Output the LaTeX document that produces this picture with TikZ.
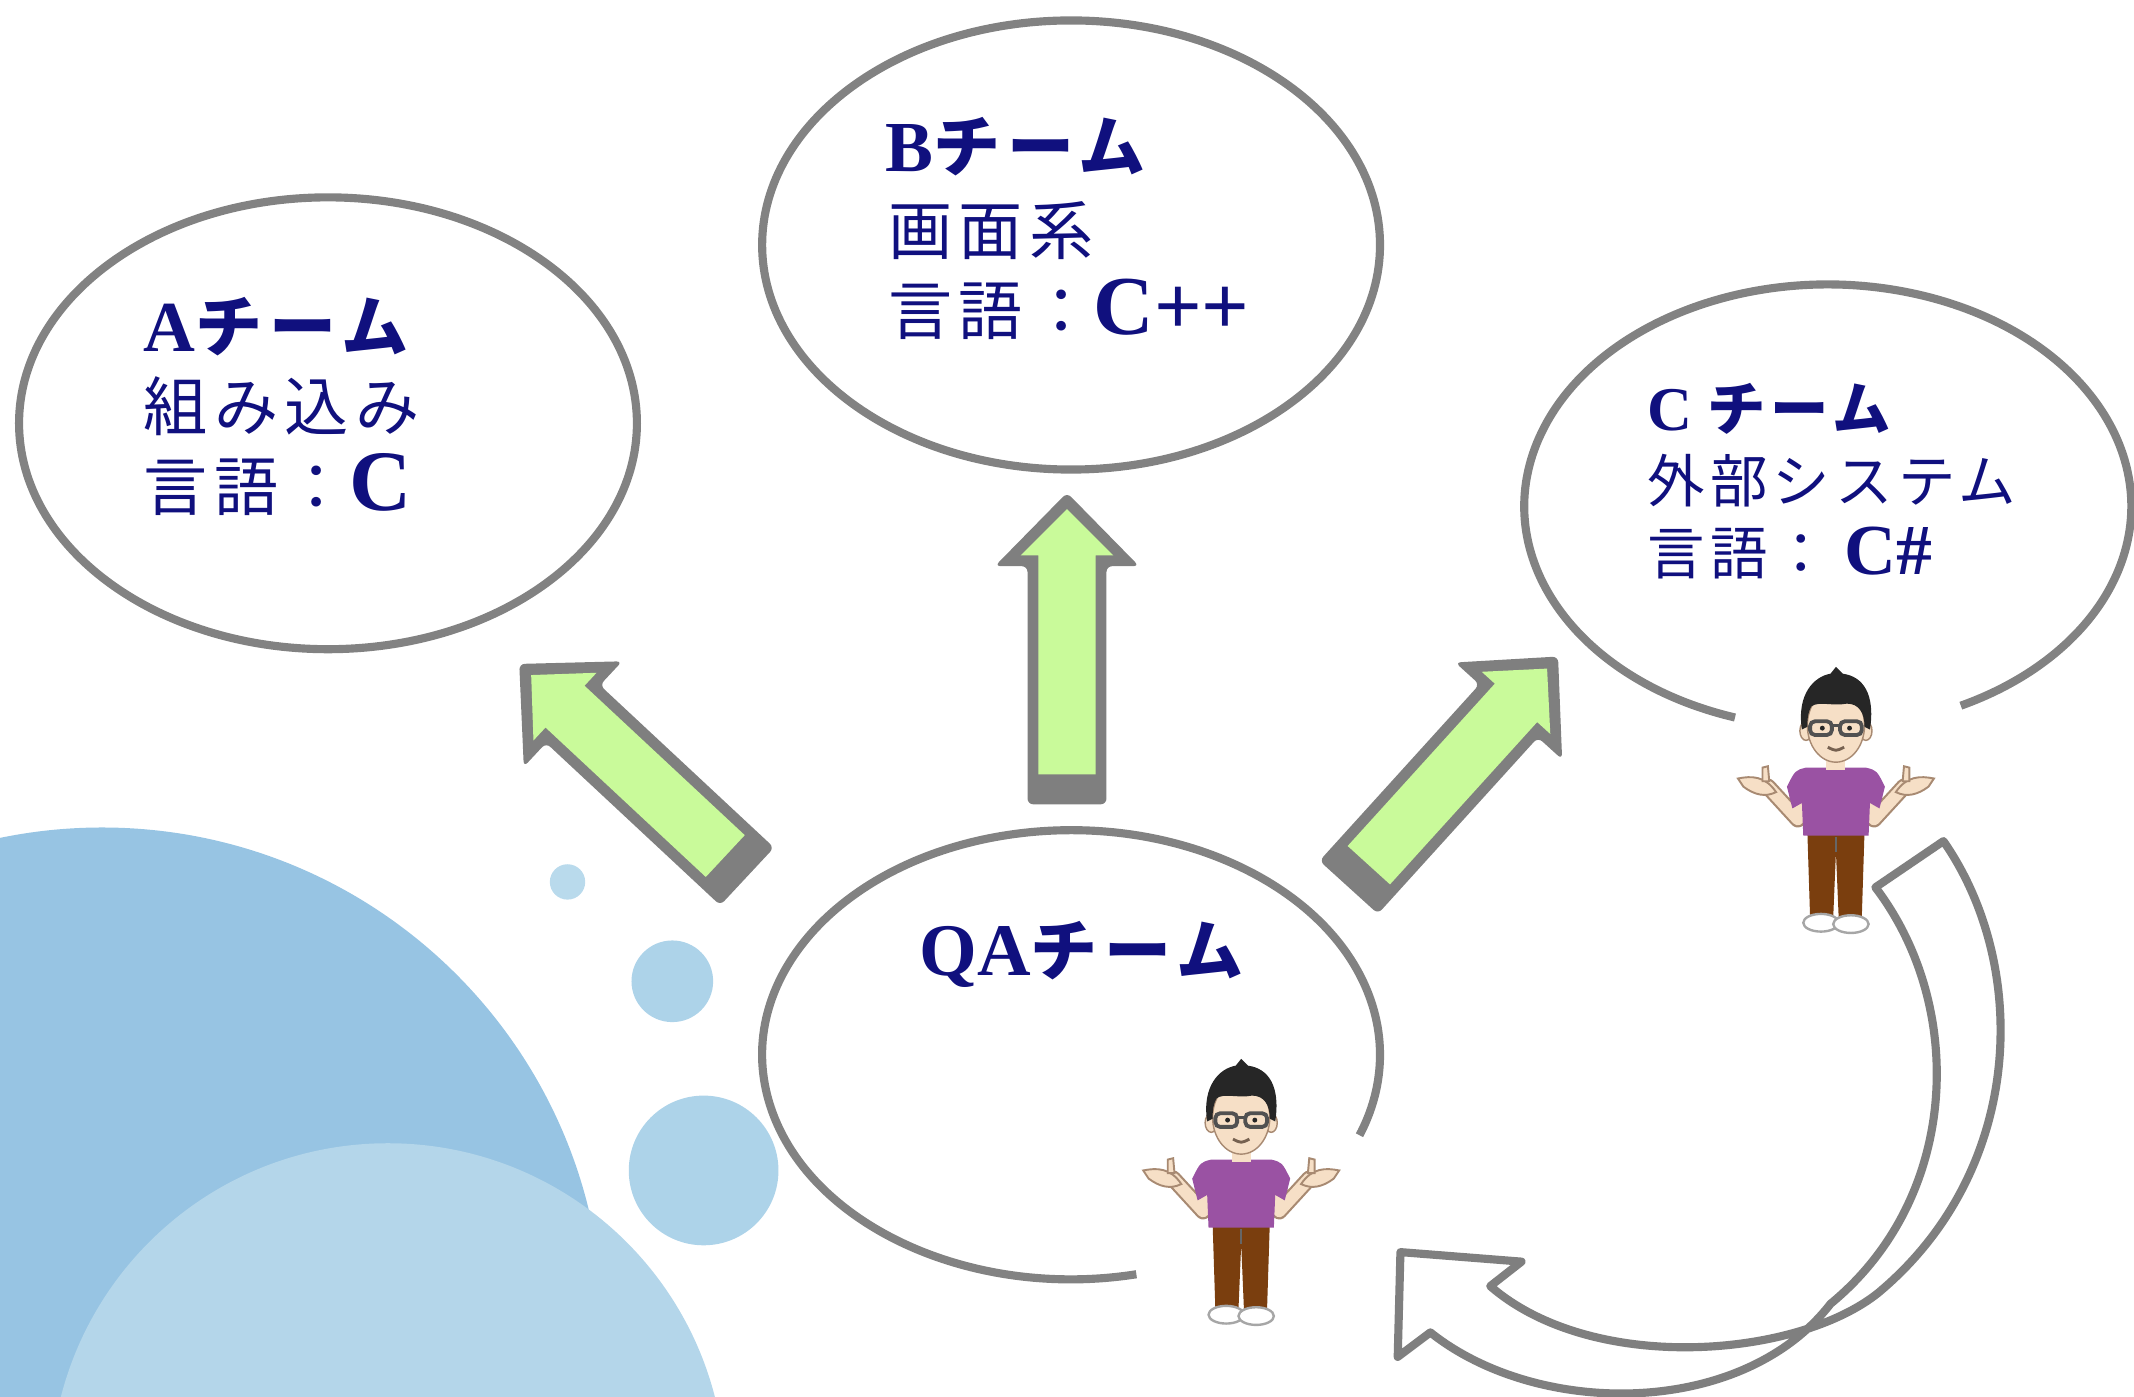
\documentclass[tikz,border=0pt]{standalone}
\usepackage{fontspec}
\usetikzlibrary{calc}
\newfontfamily\jpfont{Noto Sans CJK JP}[LetterSpace=10]
\newfontfamily\jpsmall{Noto Sans CJK JP}[LetterSpace=9]
\newfontfamily\lserif{Liberation Serif}

\definecolor{inkblue}{HTML}{10107E}
\definecolor{ringgray}{HTML}{828282}
\definecolor{arrgray}{HTML}{7F7F7F}
\definecolor{arrgreen}{HTML}{C9FA9A}
\definecolor{bigblue}{HTML}{97C4E3}
\definecolor{paleblue}{HTML}{B4D6EA}
\definecolor{dropblue}{HTML}{ADD3E9}
\definecolor{skin}{HTML}{F6DFC6}
\definecolor{skinedge}{HTML}{A88A72}
\definecolor{hair}{HTML}{262626}
\definecolor{shirt}{HTML}{9A52A3}
\definecolor{pants}{HTML}{7A3E0E}

\begin{document}
\begin{tikzpicture}[x=0.01cm, y=-0.01cm,
  ring/.style={draw=ringgray, line width=1.7pt},
  jtext/.style={anchor=base west, inner sep=0pt, text=inkblue},
  blockarrow/.pic={
    \fill[arrgray, rounded corners=1.2pt] (0,-29) -- (175,-29) -- (175,-53) -- (229,0)
      -- (175,53) -- (175,29) -- (0,29) -- cycle;
    \fill[arrgreen] (22,-21) -- (183,-21) -- (183,-34) -- (217,0) -- (183,34)
      -- (183,21) -- (22,21) -- cycle;
  },
  person/.pic={
    % arms (behind the shirt)
    \foreach \s in {-1,1}{
      \draw[skinedge, line width=3.4pt, line cap=round, line join=round]
        (\s*28,90) -- (\s*28,108) -- (\s*50,84);
      \draw[skin, line width=2.5pt, line cap=round, line join=round]
        (\s*28,90) -- (\s*28,108) -- (\s*50,84);
      \filldraw[fill=skin, draw=skinedge, line width=0.4pt]
        (\s*44,88) .. controls (\s*52,76) and (\s*62,76) .. (\s*72,78)
        -- (\s*68,84) .. controls (\s*60,90) and (\s*52,92) .. cycle;
      \filldraw[fill=skin, draw=skinedge, line width=0.4pt]
        (\s*49,80) -- (\s*50,69) -- (\s*54,70) -- (\s*54,80) -- cycle;
    }
    % legs and shoes
    \fill[pants] (-21,117) -- (21,117) -- (19,180) -- (2,180) -- (0,132)
      -- (-2,180) -- (-19,180) -- cycle;
    \draw[black!60, line width=0.3pt] (0,132) -- (0,121);
    \filldraw[fill=white, draw=gray!70, line width=0.5pt] (-11,184) ellipse[x radius=13, y radius=6.5];
    \filldraw[fill=white, draw=gray!70, line width=0.5pt] (11,185) ellipse[x radius=13, y radius=6.5];
    % shirt
    \fill[shirt] (-22,70) -- (22,70) .. controls (30,72) .. (36,84) -- (32,100)
      -- (25,96) -- (24,120) -- (-24,120) -- (-25,96) -- (-32,100) -- (-36,84)
      .. controls (-30,72) .. cycle;
    % neck, ears, face
    \fill[skin] (-7,58) rectangle (7,72);
    \filldraw[fill=skin, draw=skinedge, line width=0.3pt] (-22,43) ellipse[x radius=4.5, y radius=7];
    \filldraw[fill=skin, draw=skinedge, line width=0.3pt] (22,43) ellipse[x radius=4.5, y radius=7];
    \filldraw[fill=skin, draw=skinedge, line width=0.3pt] (0,39) ellipse[x radius=21, y radius=27];
    % hair
    \fill[hair] (-25,42) .. controls (-29,16) and (-16,3) .. (-4,1) -- (0,-4) -- (5,1)
      .. controls (20,3) and (29,16) .. (25,42) -- (21,40)
      .. controls (21,30) and (17,23) .. (8,23) .. controls (-2,25) and (-13,21) .. (-18,25)
      .. controls (-21,30) and (-21,35) .. (-21,40) -- cycle;
    % glasses, eyes, mouth
    \draw[hair!80, line width=0.8pt, rounded corners=1pt] (-19,36) rectangle (-3,46);
    \draw[hair!80, line width=0.8pt, rounded corners=1pt] (3,36) rectangle (19,46);
    \draw[hair!80, line width=0.6pt] (-3,39) -- (3,39);
    \fill[hair] (-10,41) circle[radius=1.8];
    \fill[hair] (10,41) circle[radius=1.8];
    \draw[skinedge!70!black, line width=0.6pt] (-6,55) .. controls (0,58) .. (6,55);
  }
]
\useasboundingbox (0,0) rectangle (1568,1026);

% decorative bubbles in the lower left corner
\begin{scope}
  \clip (0,0) rectangle (1568,1026);
  \fill[bigblue] (75,976) circle[radius=368];
  \fill[paleblue] (285,1088) circle[radius=248];
  \fill[dropblue!85!white] (417,648) circle[radius=13];
  \fill[dropblue] (494,721) circle[radius=30];
  \fill[dropblue] (517,860) circle[radius=55];
\end{scope}

% team bubbles
\coordinate (cA) at (241,311);
\coordinate (cB) at (787,180);
\coordinate (cC) at (1343,372);
\coordinate (cQA) at (787,775);
\draw[ring] (cA) ellipse[x radius=227, y radius=166];
\draw[ring] (cB) ellipse[x radius=227, y radius=165];
\draw[ring] ($(cC)+(107.8:223 and 163)$) arc[start angle=107.8, end angle=424, x radius=223, y radius=163];
\draw[ring] ($(cQA)+(77.8:227 and 165)$) arc[start angle=77.8, end angle=381, x radius=227, y radius=165];

% block arrows from the QA team to the other teams
\coordinate (toA) at (549,644);
\coordinate (toB) at (784,591);
\coordinate (toC) at (991,652);
\pic[rotate=137] at (toA) {blockarrow};
\pic[rotate=90] at (toB) {blockarrow};
\pic[rotate=47.8] at (toC) {blockarrow};

% curved feedback arrow from the C team back to the QA team (twisted ribbon)
\coordinate (tailO) at (1428,618);
\coordinate (tailI) at (1378,652);
\coordinate (tipQA) at (1029,920);
\filldraw[fill=white, draw=arrgray, line width=1.7pt, line join=round]
  (tailO) .. controls (1492,710) and (1488,860) .. (1380,950)
  .. controls (1320,998) and (1170,1010) .. (1095,945)
  -- (1118,927) -- (tipQA) -- (1027,997) -- (1051,979)
  .. controls (1130,1042) and (1280,1042) .. (1345,958)
  .. controls (1440,880) and (1445,740) .. (tailI) -- cycle;

% people
\coordinate (personQA) at (912,782);
\coordinate (personC) at (1349,494);
\pic at (personQA) {person};
\pic at (personC) {person};

% labels
\node[jtext] (aTitle) at (105,258) {{\fontsize{15}{15}\selectfont\lserif\bfseries A}{\fontsize{14}{14}\selectfont\jpfont\bfseries チーム}};
\node[jtext] (aKind) at (105,316) {\fontsize{13.4}{14}\selectfont\jpfont 組み込み};
\node[jtext] (aLang) at (105,375) {\fontsize{13.4}{14}\selectfont\jpfont 言語：{\fontsize{18}{18}\selectfont\lserif\bfseries C}};

\node[jtext] (bTitle) at (650,126) {{\fontsize{15}{15}\selectfont\lserif\bfseries B}{\fontsize{14}{14}\selectfont\jpfont\bfseries チーム}};
\node[jtext] (bKind) at (652,187) {\fontsize{13.4}{14}\selectfont\jpfont 画面系};
\node[jtext] (bLang) at (652,246) {\fontsize{13.4}{14}\selectfont\jpfont 言語：{\fontsize{17.5}{18}\selectfont\lserif\bfseries C++}};

\node[jtext] (cTitle) at (1210,316) {{\fontsize{13}{13}\selectfont\lserif\bfseries C}\hspace{3pt}{\fontsize{12.2}{13}\selectfont\jpsmall\bfseries チーム}};
\node[jtext] (cKind) at (1210,369) {\fontsize{12}{13}\selectfont\jpsmall 外部システム};
\node[jtext] (cLang) at (1210,422) {\fontsize{12}{13}\selectfont\jpsmall 言語：\hspace{3pt}{\fontsize{15}{15}\selectfont\lserif\bfseries C\#}};

\node[jtext] (qaTitle) at (675,717) {{\fontsize{15.5}{15}\selectfont\lserif\bfseries QA}{\fontsize{14}{14}\selectfont\jpfont\bfseries チーム}};
\end{tikzpicture}
\end{document}
